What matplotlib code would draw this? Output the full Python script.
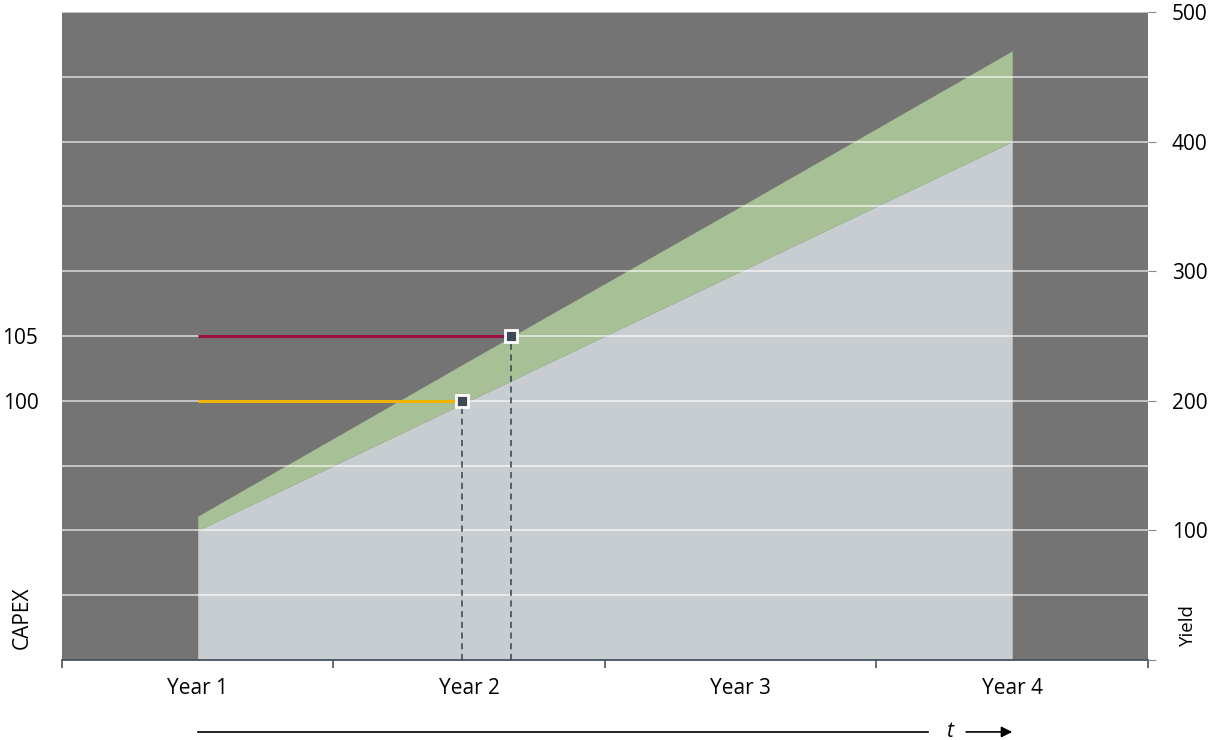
import numpy as np
import matplotlib.pyplot as plt
from matplotlib.transforms import blended_transform_factory

plt.rcParams['font.family'] = ['Open Sans', 'DejaVu Sans']

years = ['Year 1', 'Year 2', 'Year 3', 'Year 4']
yield_low = [100, 200, 300, 400]
yield_high = [111, 231, 350, 470]

capex_labels = ['100', '105']
capex_levels = [200, 250]      # on the yield scale
breakeven_x = [0.974, 1.153]   # where each capex line meets the band
capex_colors = ['#f0b400', '#9b1043']

right_ticks = [0, 100, 200, 300, 400, 500]
right_labels = ['', '100', '200', '300', '400', '500']

x = np.arange(len(years))

fig = plt.figure(figsize=(12.13, 7.40), dpi=100)
ax = fig.add_axes([0.0511, 0.1081, 0.8953, 0.8757])
ax.set_facecolor('#747474')
ax.set_xlim(-0.5, 3.5)
ax.set_ylim(0, 500)

# areas
ax.fill_between(x, 0, yield_low, color='#c8cdd1', lw=0, zorder=1)
ax.fill_between(x, yield_low, yield_high, color='#a7c095', lw=0, zorder=1)

# gridlines
for g in range(50, 501, 50):
    ax.axhline(g, color='white', lw=1.1, alpha=0.75, zorder=2)

# capex lines + dashed drops
for lvl, bx, c in zip(capex_levels, breakeven_x, capex_colors):
    ax.plot([0, bx], [lvl, lvl], color=c, lw=2.2, solid_capstyle='butt', zorder=3)
    ax.plot([bx, bx], [0, lvl], color='#34414c', lw=1.1, ls=(0, (4, 3)), zorder=3)
    ax.plot(bx, lvl, marker='s', ms=9, mfc='#3d4a55', mec='white', mew=2, zorder=4)

# x axis
ax.set_xticks(x)
ax.set_xticklabels(years, fontsize=15)
ax.set_xticks(np.arange(-0.5, 3.6, 1), minor=True)
ax.tick_params(axis='x', which='major', length=0, pad=13)
ax.tick_params(axis='x', which='minor', length=6, color='#4a5560', width=1.2)

# left axis (capex)
ax.set_yticks(capex_levels)
ax.set_yticklabels(capex_labels, fontsize=15)
ax.tick_params(axis='y', length=0, pad=17)

for s in ['top', 'left', 'right']:
    ax.spines[s].set_visible(False)
ax.spines['bottom'].set_color('#4a5560')
ax.spines['bottom'].set_linewidth(1.3)

# right axis (yield)
ax2 = ax.twinx()
ax2.set_ylim(0, 500)
ax2.set_yticks(right_ticks)
ax2.set_yticklabels(right_labels, fontsize=15)
ax2.tick_params(axis='y', length=6, color='#888888', pad=11)
for s in ax2.spines.values():
    s.set_visible(False)

fig.text(0.018, 0.1655, 'CAPEX', rotation=90, fontsize=15, ha='center', va='center')
fig.text(0.979, 0.155, 'Yield', rotation=90, fontsize=13.5, ha='center', va='center')

# time arrow
tr = blended_transform_factory(ax.transData, ax.transAxes)
ay = -0.111
ax.plot([0, 2.69], [ay, ay], color='black', lw=1.2, transform=tr, clip_on=False)
ax.text(2.77, ay, 't', style='italic', fontsize=15, ha='center', va='center',
        transform=tr)
ax.annotate('', xy=(3.0, ay), xytext=(2.83, ay), xycoords=tr, textcoords=tr,
            arrowprops=dict(arrowstyle='-|>', color='black', lw=1.2,
                            mutation_scale=16, shrinkA=0, shrinkB=0))

fig.savefig('out.png', dpi=100)
